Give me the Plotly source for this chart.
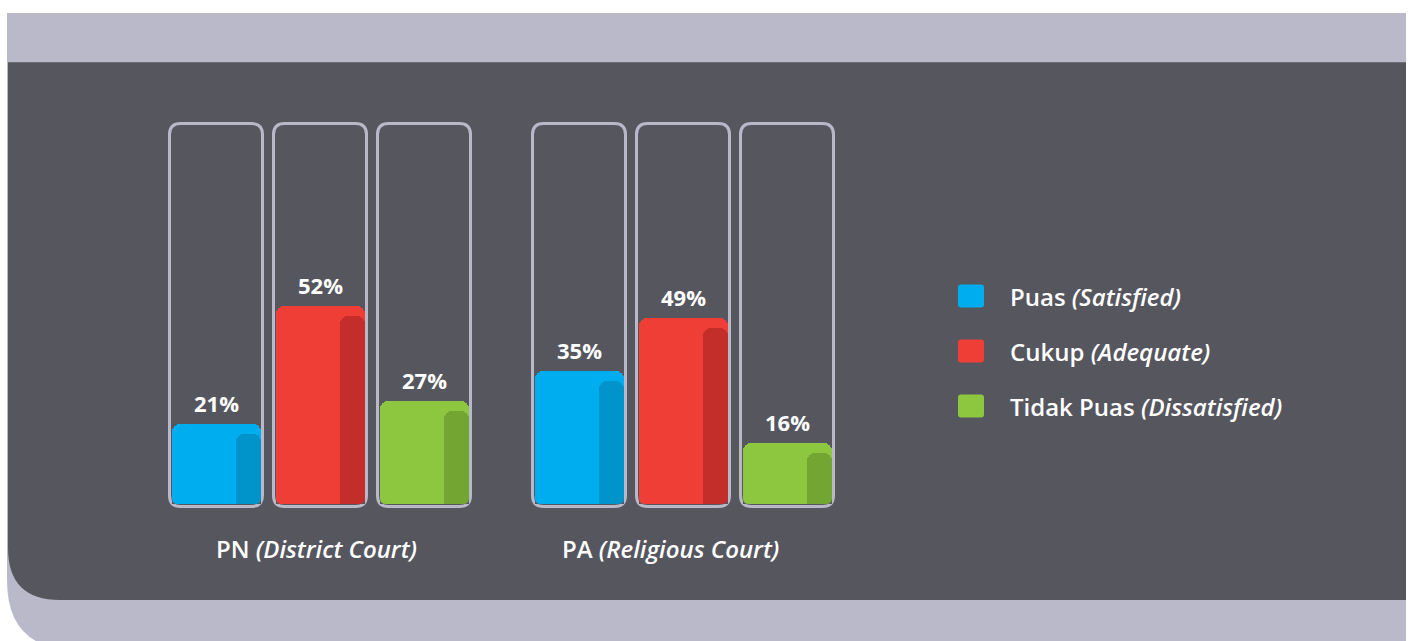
import plotly.graph_objects as go

# Survey results: satisfaction with court services
courts = ["PN <i>(District Court)</i>", "PA <i>(Religious Court)</i>"]
series = ["Puas <i>(Satisfied)</i>", "Cukup <i>(Adequate)</i>", "Tidak Puas <i>(Dissatisfied)</i>"]
puas = [21, 35]
cukup = [52, 49]
tidak_puas = [27, 16]
values = [puas, cukup, tidak_puas]

colors = ["#00AEEF", "#EF3E36", "#8DC63F"]
shades = ["#0094CA", "#C32E2A", "#72A532"]

W, H = 1413, 641
BASE_PX = 504          # pixel row of the 0% line
PX_PER_PCT = 3.8       # vertical scale (100% fills the frame)


def Y(py):
    """pixel row -> value on the y axis"""
    return (BASE_PX - py) / PX_PER_PCT


def rounded_path(x0, y0, x1, y1, r, corners=(True, True, True, True)):
    """rounded rectangle path in axis units, x in px, y given as pixel rows"""
    tl, tr, br, bl = corners
    ry = r / PX_PER_PCT
    Y0, Y1 = Y(y0), Y(y1)  # Y0 top, Y1 bottom
    p = []
    p.append(f"M {x0 + (r if tl else 0)},{Y0}")
    if tr:
        p.append(f"L {x1 - r},{Y0} Q {x1},{Y0} {x1},{Y0 - ry}")
    else:
        p.append(f"L {x1},{Y0}")
    if br:
        p.append(f"L {x1},{Y1 + ry} Q {x1},{Y1} {x1 - r},{Y1}")
    else:
        p.append(f"L {x1},{Y1}")
    if bl:
        p.append(f"L {x0 + r},{Y1} Q {x0},{Y1} {x0},{Y1 + ry}")
    else:
        p.append(f"L {x0},{Y1}")
    if tl:
        p.append(f"L {x0},{Y0 - ry} Q {x0},{Y0} {x0 + r},{Y0}")
    p.append("Z")
    return " ".join(p)


GROUP_START = 216
GROUP_STEP = 363
SLOT_STEP = 104
BAR_W = 89
SHADE_W = 25


def slot_center(g, i):
    return GROUP_START + g * GROUP_STEP + i * SLOT_STEP


fig = go.Figure()
shapes = []
annotations = []

# background panels
shapes.append(dict(type="path", xref="x", yref="y", layer="below",
                   path=rounded_path(7, 13, 1406, 650, 70, (False, False, False, True)),
                   fillcolor="#BAB9C9", line=dict(width=0)))
shapes.append(dict(type="path", xref="x", yref="y", layer="below",
                   path=rounded_path(8, 62, 1406, 600, 52, (False, False, False, True)),
                   fillcolor="#56565F", line=dict(width=0)))
shapes.append(dict(type="line", xref="x", yref="y", layer="below",
                   x0=8, x1=1406, y0=Y(62.5), y1=Y(62.5),
                   line=dict(color="#6E6D7A", width=1)))

# frames around every bar
for g in range(len(courts)):
    for i in range(len(series)):
        cx = slot_center(g, i)
        shapes.append(dict(type="path", xref="x", yref="y", layer="below",
                           path=rounded_path(cx - 46.5, 123.5, cx + 46.5, 506.5, 11),
                           fillcolor="rgba(0,0,0,0)",
                           line=dict(color="#B9B8C9", width=3)))

# bars and their darker side strips
for i, name in enumerate(series):
    xs = [slot_center(g, i) + 0.5 for g in range(len(courts))]
    fig.add_trace(go.Bar(x=xs, y=values[i], width=BAR_W,
                         marker=dict(color=colors[i], line=dict(width=0), cornerradius=8),
                         name=name, showlegend=False, hoverinfo="skip"))
    xs_shade = [slot_center(g, i) + 32.5 for g in range(len(courts))]
    fig.add_trace(go.Bar(x=xs_shade, y=[v - 10 / PX_PER_PCT for v in values[i]], width=SHADE_W,
                         marker=dict(color=shades[i], line=dict(width=0), cornerradius=8),
                         showlegend=False, hoverinfo="skip"))
    for g in range(len(courts)):
        annotations.append(dict(x=xs[g], y=values[i][g], xref="x", yref="y",
                                text=f"{values[i][g]}%", showarrow=False,
                                yanchor="middle", yshift=21,
                                font=dict(family="Open Sans", size=22, color="white", weight=700)))

# rounded bottom corners of the bars: small masks in the panel colour
for g in range(len(courts)):
    for i in range(len(series)):
        cx = slot_center(g, i) + 0.5
        for side in (-1, 1):
            xe = cx + side * BAR_W / 2
            xi = xe - side * 6
            shapes.append(dict(type="path", xref="x", yref="y",
                               path=f"M {xe},{Y(498)} Q {xe},{Y(504)} {xi},{Y(504)} "
                                    f"L {xe},{Y(504)} Z",
                               fillcolor="#56565F", line=dict(width=0)))

# group captions
caption_x = [316, 670]
for g, label in enumerate(courts):
    annotations.append(dict(x=caption_x[g], y=Y(548), xref="x", yref="y", text=label,
                            showarrow=False, xanchor="center", yanchor="middle",
                            font=dict(family="Open Sans", size=24, color="white", weight=600)))

# legend
legend_y = [296, 351, 406]
for i, name in enumerate(series):
    yc = legend_y[i]
    shapes.append(dict(type="path", xref="x", yref="y",
                       path=rounded_path(958, yc - 11.5, 984, yc + 11.5, 3),
                       fillcolor=colors[i], line=dict(width=0)))
    annotations.append(dict(x=1008, y=Y(yc), xref="x", yref="y", text=name, showarrow=False,
                            xanchor="left", yanchor="middle",
                            font=dict(family="Open Sans", size=24, color="white", weight=600)))

fig.update_layout(
    width=W, height=H,
    margin=dict(l=0, r=0, t=0, b=0),
    paper_bgcolor="white", plot_bgcolor="rgba(0,0,0,0)",
    barmode="overlay", bargap=0,
    shapes=shapes, annotations=annotations,
    xaxis=dict(range=[0, W], domain=[0, 1], visible=False, fixedrange=True),
    yaxis=dict(range=[Y(H), Y(0)], domain=[0, 1], visible=False, fixedrange=True),
    showlegend=False,
)

fig.write_html("out.html", config={"displayModeBar": False})
